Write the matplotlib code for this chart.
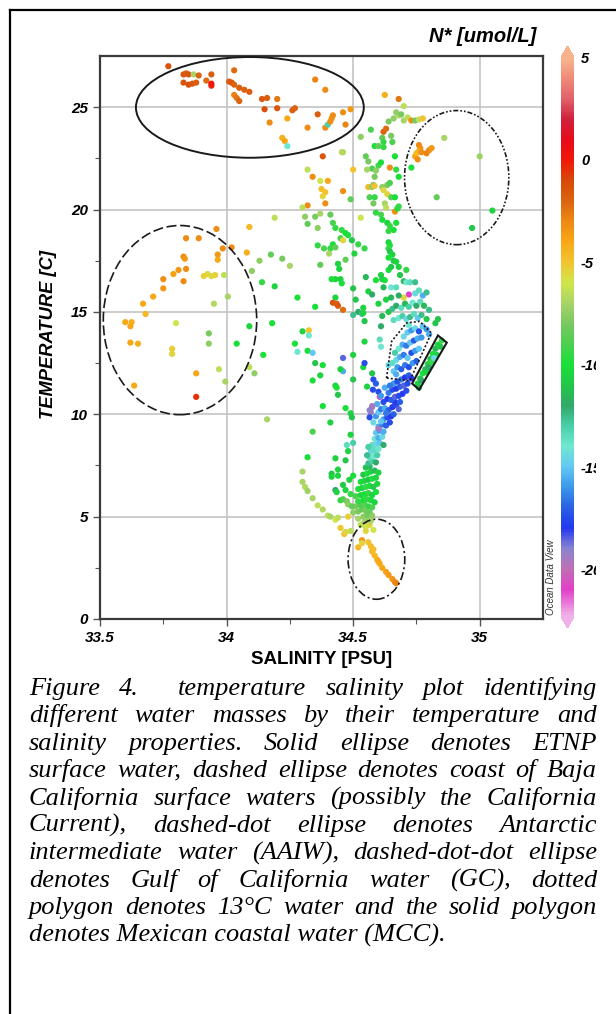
import re

import numpy as np
import matplotlib
matplotlib.use('Agg')
import matplotlib.pyplot as plt
from matplotlib.colors import LinearSegmentedColormap, Normalize
from matplotlib.patches import Ellipse, Polygon
from matplotlib.lines import Line2D
from matplotlib.transforms import Bbox, TransformedBbox
from matplotlib.font_manager import FontProperties

# ---- stations: (salinity PSU, temperature C, N* umol/L) ----
etnp_surface = [
    (33.77, 27.0, -1.5), (33.83, 26.6, -1.5), (33.84, 26.65, -1.8), (33.85, 26.6, -1.5),
    (33.87, 26.6, -7.0), (33.89, 26.55, -2.0), (33.92, 26.3, -2.2), (33.94, 26.6, -1.8),
    (33.94, 26.05, -0.3), (33.94, 26.15, 0.2), (33.83, 26.2, -1.5), (33.85, 26.1, -1.2),
    (33.865, 26.15, -1.6), (33.88, 26.2, -1.8), (34.03, 26.8, -2.2), (34.01, 26.25, -1.8),
    (34.02, 26.2, -1.5), (34.03, 26.1, -2.0), (34.05, 25.95, -1.8), (34.07, 25.85, -2.0),
    (34.09, 25.75, -1.7), (34.03, 25.6, -2.8), (34.04, 25.45, -2.5), (34.05, 25.3, -2.0),
    (34.14, 25.4, -1.6), (34.16, 25.45, -1.8), (34.15, 24.9, -1.2), (34.20, 25.4, -2.5),
    (34.20, 24.95, -1.4), (34.17, 24.25, -3.0), (34.24, 24.45, -4.0), (34.26, 24.85, -1.8),
    (34.27, 24.95, -2.0), (34.22, 23.5, -4.2), (34.23, 23.35, -4.0), (34.24, 23.1, -14.0),
    (34.32, 24.0, -3.2), (34.35, 26.35, -2.8), (34.39, 25.85, -3.0), (34.36, 24.65, -1.8),
    (34.39, 24.0, -3.0), (34.40, 24.15, -13.0), (34.41, 24.3, -3.2), (34.415, 24.45, -3.3),
    (34.42, 24.6, -3.0), (34.46, 24.75, -3.2), (34.47, 24.15, -2.8), (34.49, 24.9, -3.5),
    (34.38, 22.6, -1.5),
]

baja_surface = [
    (33.96, 19.05, -3.2), (34.09, 19.15, -4.5), (33.84, 18.6, -3.0), (33.89, 18.6, -3.2),
    (34.02, 18.15, -3.0), (33.985, 18.1, -3.0), (33.965, 17.8, -3.5), (33.965, 17.55, -4.0),
    (33.83, 17.7, -3.0), (33.835, 17.6, -3.5), (34.08, 17.9, -4.2), (33.84, 17.1, -3.2),
    (33.81, 17.05, -3.5), (33.79, 16.85, -3.8), (33.83, 16.5, -3.0), (33.75, 16.6, -3.2),
    (33.75, 16.15, -3.5), (33.71, 15.75, -4.0), (33.67, 15.4, -4.0), (33.68, 14.9, -4.5),
    (33.91, 16.75, -5.3), (33.925, 16.85, -5.5), (33.94, 16.75, -5.6), (33.955, 16.8, -5.4),
    (33.99, 16.8, -6.5), (34.005, 15.75, -7.0), (33.95, 15.4, -6.8), (33.60, 14.5, -4.0),
    (33.625, 14.5, -4.2), (33.62, 14.3, -4.0), (33.62, 13.5, -4.0), (33.65, 13.45, -4.2),
    (33.635, 11.4, -4.0), (33.80, 14.45, -6.0), (33.785, 13.2, -5.3), (33.785, 12.95, -5.5),
    (33.88, 12.0, -4.0), (33.88, 10.85, -0.5), (33.93, 13.95, -8.0), (33.93, 13.45, -7.5),
    (33.97, 12.2, -6.5), (33.995, 11.6, -7.0), (34.09, 14.3, -10.5), (34.04, 13.45, -10.0),
    (34.09, 12.3, -6.5), (34.11, 12.0, -7.5), (34.145, 12.9, -10.0), (34.18, 14.45, -10.0),
    (34.16, 9.75, -7.0),
]

upper_mixed = [
    (34.625, 25.6, -4.2), (34.68, 25.4, -2.5), (34.70, 25.05, -6.5), (34.455, 22.8, -6.5),
    (34.46, 22.8, -6.8), (34.32, 21.95, -6.5), (34.34, 21.6, -3.2), (34.53, 23.55, -7.5),
    (34.57, 23.9, -9.0), (34.62, 23.8, -2.0), (34.63, 23.95, -2.2), (34.64, 24.3, -8.0),
    (34.66, 24.45, -7.5), (34.68, 24.6, -6.8), (34.67, 24.75, -7.5), (34.69, 24.65, -8.0),
    (34.70, 24.35, -7.0), (34.715, 24.5, -6.5), (34.73, 24.35, -3.0), (34.745, 24.35, -8.0),
    (34.76, 24.4, -6.5), (34.775, 24.45, -5.0), (34.615, 23.5, -8.5), (34.62, 23.3, -9.5),
    (34.65, 23.6, -8.0), (34.655, 23.3, -9.0), (34.585, 23.1, -10.0), (34.60, 23.1, -8.5),
    (34.62, 23.05, -9.5), (34.73, 22.05, -10.0), (34.55, 22.6, -8.5), (34.56, 22.35, -8.0),
    (34.575, 22.0, -9.0), (34.59, 21.9, -7.5), (34.60, 22.15, -9.0), (34.61, 22.3, -10.0),
    (34.645, 22.05, -3.0), (34.665, 22.6, -10.0), (34.67, 21.95, -9.5), (34.68, 21.6, -10.0),
    (34.585, 21.6, -8.0), (34.58, 21.2, -8.0), (34.555, 21.95, -7.0), (34.56, 21.1, -4.5),
    (34.575, 21.1, -7.5), (34.585, 21.15, -5.0), (34.615, 21.1, -7.5), (34.62, 20.95, -5.5),
    (34.635, 21.2, -8.0), (34.645, 21.3, -9.0), (34.565, 20.6, -9.0), (34.585, 20.6, -9.5),
    (34.58, 20.3, -8.0), (34.635, 20.75, -5.5), (34.65, 20.6, -8.5), (34.665, 20.6, -10.0),
    (34.625, 20.3, -7.0), (34.63, 20.1, -6.5), (34.665, 19.9, -3.2), (34.675, 20.05, -10.0),
    (34.68, 20.15, -9.5), (34.59, 19.85, -9.5), (34.61, 19.75, -9.0), (34.615, 19.5, -10.0),
    (34.635, 19.35, -10.5), (34.645, 19.2, -9.5), (34.66, 19.0, -10.0), (34.64, 18.95, -9.5),
    (34.67, 19.35, -10.0), (34.64, 18.4, -10.5), (34.645, 18.25, -10.0), (34.64, 18.1, -9.5),
    (34.645, 17.95, -11.0), (34.655, 17.8, -10.5), (34.64, 17.65, -10.0), (34.66, 17.5, -11.0),
    (34.67, 17.45, -10.5), (34.61, 16.8, -10.5), (34.615, 16.6, -11.0), (34.625, 16.55, -10.0),
    (34.62, 16.2, -11.5), (34.64, 17.05, -10.0), (34.65, 17.2, -11.0), (34.68, 17.2, -10.5),
    (34.685, 16.8, -11.0), (34.71, 17.05, -9.5), (34.70, 16.5, -11.5), (34.65, 16.2, -14.0),
    (34.67, 16.2, -13.5), (34.71, 16.45, -14.0), (34.725, 16.45, -13.5), (34.745, 16.45, -12.5),
    (34.72, 15.85, -21.0), (34.70, 15.7, -5.5),
    (34.32, 20.2, -3.0), (34.39, 20.3, -3.2), (34.38, 20.65, -5.5), (34.39, 20.85, -5.0),
    (34.375, 21.0, -4.8), (34.37, 21.4, -6.0), (34.40, 21.4, -4.0), (34.46, 20.9, -3.2),
    (34.50, 21.95, -5.0), (34.49, 20.5, -8.5), (34.53, 19.6, -6.0), (34.30, 20.1, -6.5),
    (34.31, 19.65, -7.5), (34.32, 19.3, -8.5), (34.35, 19.65, -8.0), (34.36, 19.1, -7.5),
    (34.37, 19.8, -7.0), (34.41, 19.75, -8.5), (34.42, 19.35, -9.0), (34.43, 19.1, -9.5),
    (34.455, 19.0, -9.5), (34.47, 18.85, -10.0), (34.48, 18.75, -10.0), (34.495, 18.5, -11.0),
    (34.45, 18.6, -9.0), (34.46, 18.5, -5.5), (34.42, 18.3, -10.0), (34.41, 18.1, -9.5),
    (34.43, 18.15, -8.5), (34.385, 18.1, -9.0), (34.36, 18.25, -9.5), (34.505, 17.85, -10.5),
    (34.52, 18.3, -9.5), (34.545, 18.1, -9.5), (34.47, 17.55, -8.5), (34.44, 17.35, -10.5),
    (34.445, 17.1, -10.5), (34.43, 16.6, -10.5), (34.415, 16.6, -10.0), (34.45, 16.6, -10.5),
    (34.455, 16.4, -10.0), (34.43, 15.7, -10.5), (34.42, 15.45, -1.5), (34.435, 15.4, -1.8),
    (34.44, 15.3, -1.6), (34.46, 15.1, -2.2), (34.35, 15.25, -10.0), (34.28, 15.7, -10.0),
    (34.14, 16.45, -9.5), (34.19, 16.25, -10.5), (34.19, 19.6, -6.5), (34.13, 17.5, -7.5),
    (34.175, 17.8, -8.5), (34.22, 17.6, -8.0), (34.25, 17.25, -7.0), (34.10, 17.0, -7.5),
    (34.37, 17.3, -8.5), (34.405, 17.85, -7.0), (34.55, 16.7, -11.5), (34.56, 16.0, -10.5),
    (34.575, 15.85, -12.0), (34.59, 16.55, -10.0), (34.50, 16.15, -11.0), (34.51, 15.6, -11.0),
    (34.52, 15.0, -12.0), (34.54, 15.2, -10.5), (34.535, 14.9, -12.5), (34.545, 14.55, -11.0),
    (34.50, 14.85, -12.5),
]

gulf_upper = [
    (34.76, 23.15, -3.0), (34.765, 23.0, -3.3), (34.76, 22.85, -4.0), (34.745, 22.6, -3.8),
    (34.755, 22.45, -3.2), (34.75, 22.75, -4.5), (34.77, 22.8, -3.2), (34.79, 22.75, -2.8),
    (34.80, 22.9, -3.0), (34.81, 23.0, -3.5), (34.86, 23.5, -7.0), (35.00, 22.6, -7.2),
    (34.83, 20.6, -8.5), (35.05, 19.95, -10.5), (34.97, 19.1, -11.0),
]

mid_scatter = [
    (34.27, 13.45, -10.0), (34.28, 13.05, -14.0), (34.30, 14.05, -10.5), (34.325, 14.1, -5.0),
    (34.325, 13.85, -14.0), (34.32, 13.1, -10.0), (34.34, 13.0, -15.0), (34.35, 12.5, -11.0),
    (34.38, 12.4, -10.0), (34.34, 11.65, -10.0), (34.37, 11.9, -10.5), (34.43, 11.4, -10.5),
    (34.435, 11.3, -10.0), (34.44, 10.95, -11.0), (34.38, 10.4, -10.0), (34.41, 9.6, -10.5),
    (34.34, 9.15, -9.0), (34.46, 12.75, -18.5), (34.46, 12.1, -15.5), (34.45, 12.2, -10.5),
    (34.50, 11.7, -11.0), (34.47, 10.3, -10.0), (34.49, 10.05, -10.5), (34.32, 7.9, -10.0),
    (34.43, 7.85, -10.5), (34.49, 9.0, -10.5), (34.475, 8.5, -13.5), (34.50, 8.6, -13.0),
    (34.415, 7.1, -11.0), (34.415, 6.95, -10.5), (34.44, 7.3, -10.5), (34.46, 6.55, -11.0),
    (34.43, 6.3, -12.0), (34.435, 6.2, -10.5), (34.47, 6.3, -10.5), (34.45, 5.8, -9.5),
    (34.46, 5.85, -9.0), (34.475, 5.75, -8.0), (34.48, 5.6, -7.5), (34.54, 12.3, -10.5),
    (34.545, 12.5, -17.5), (34.50, 12.9, -10.5), (34.555, 11.35, -10.5), (34.575, 12.0, -11.0),
    (34.58, 11.7, -17.5), (34.59, 11.5, -17.0), (34.605, 10.85, -20.5), (34.60, 11.1, -17.5),
    (34.575, 10.35, -19.0), (34.57, 10.1, -19.5), (34.565, 9.85, -17.5), (34.495, 9.85, -11.0),
    (34.48, 8.2, -10.5), (34.47, 7.75, -11.0), (34.44, 7.0, -10.5), (34.54, 14.95, -10.5),
    (34.545, 13.55, -10.5), (34.605, 13.65, -13.5), (34.61, 13.3, -14.0), (34.578, 11.2, -17.5),
]

deep_arc = [
    (34.30, 7.2, -7.0), (34.30, 6.7, -7.0), (34.31, 6.45, -6.8), (34.32, 6.25, -7.2),
    (34.34, 5.9, -7.0), (34.36, 5.55, -6.5), (34.38, 5.35, -6.8), (34.40, 5.05, -6.5),
    (34.41, 5.0, -7.0), (34.43, 4.85, -6.0), (34.44, 4.95, -6.5), (34.45, 4.45, -5.2),
    (34.465, 4.15, -4.8), (34.47, 4.25, -5.5), (34.48, 5.0, -5.3), (34.49, 4.3, -6.5),
    (34.52, 3.5, -4.5), (34.535, 3.85, -3.5), (34.535, 3.7, -5.5),
]

main_band = [
    # 4-5.5 C
    (34.53, 4.6, -6.5), (34.545, 4.75, -7.0), (34.55, 4.5, -6.0), (34.56, 4.9, -7.5),
    (34.52, 4.9, -7.0), (34.54, 5.0, -7.5), (34.555, 5.1, -8.0), (34.565, 4.6, -5.5),
    (34.57, 4.8, -7.0), (34.58, 4.35, -6.0), (34.55, 4.3, -5.5), (34.50, 5.2, -7.5),
    (34.52, 5.25, -8.0), (34.535, 5.35, -8.5), (34.55, 5.3, -8.0), (34.565, 5.2, -8.5),
    (34.575, 5.05, -7.5),
    # 5.5-7.5 C
    (34.51, 5.5, -8.0), (34.53, 5.55, -9.0), (34.545, 5.6, -8.5), (34.56, 5.5, -9.5),
    (34.575, 5.45, -9.0), (34.52, 5.75, -9.5), (34.54, 5.8, -10.0), (34.555, 5.85, -9.5),
    (34.57, 5.8, -10.0), (34.585, 5.7, -10.5), (34.51, 6.0, -9.0), (34.53, 6.05, -10.5),
    (34.545, 6.1, -10.0), (34.56, 6.15, -9.5), (34.575, 6.05, -10.5), (34.59, 6.2, -10.0),
    (34.52, 6.35, -10.0), (34.535, 6.4, -10.5), (34.55, 6.45, -9.5), (34.565, 6.5, -10.0),
    (34.58, 6.45, -11.0), (34.595, 6.6, -10.5), (34.53, 6.7, -10.0), (34.545, 6.75, -10.5),
    (34.56, 6.8, -11.0), (34.575, 6.85, -10.0), (34.59, 6.9, -10.5), (34.54, 7.05, -11.0),
    (34.555, 7.1, -10.0), (34.57, 7.2, -10.5), (34.585, 7.25, -11.5), (34.60, 7.15, -10.5),
    (34.55, 7.4, -11.0), (34.565, 7.45, -11.5), (34.49, 6.1, -9.5), (34.485, 6.8, -10.5),
    (34.50, 7.0, -10.0), (34.495, 5.5, -8.5),
    # 7.5-9 C
    (34.56, 7.6, -12.5), (34.575, 7.7, -13.0), (34.59, 7.65, -12.0), (34.565, 7.9, -13.5),
    (34.58, 7.95, -14.0), (34.595, 8.0, -13.0), (34.57, 8.2, -14.5), (34.585, 8.25, -13.5),
    (34.60, 8.3, -14.0), (34.575, 8.5, -13.5), (34.59, 8.55, -14.5), (34.605, 8.6, -15.0),
    (34.585, 8.8, -14.0), (34.60, 8.85, -15.5), (34.615, 8.9, -14.5), (34.56, 8.4, -13.0),
    (34.555, 8.0, -12.5), (34.62, 8.5, -12.0),
    # 9-10.5 C
    (34.59, 9.1, -15.0), (34.605, 9.2, -16.0), (34.62, 9.15, -15.5), (34.60, 9.4, -15.5),
    (34.615, 9.5, -16.5), (34.63, 9.45, -17.0), (34.645, 9.6, -17.5), (34.62, 9.75, -16.0),
    (34.635, 9.85, -17.5), (34.65, 9.9, -18.0), (34.66, 10.0, -17.0), (34.58, 9.6, -14.5),
    (34.59, 9.9, -16.0), (34.60, 10.1, -15.0), (34.61, 10.25, -16.5), (34.625, 10.3, -15.5),
    (34.64, 10.2, -17.0), (34.655, 10.35, -18.0), (34.67, 10.45, -17.5), (34.68, 10.25, -18.5),
    (34.595, 10.5, -15.5), (34.565, 10.2, -19.0), (34.575, 10.4, -19.5), (34.60, 9.3, -19.5),
    (34.61, 9.65, -15.0), (34.63, 10.05, -16.5), (34.665, 10.6, -18.0), (34.685, 10.6, -17.0),
    # 10.5-12 C
    (34.62, 10.6, -17.5), (34.635, 10.75, -18.0), (34.65, 10.7, -17.0), (34.665, 10.85, -18.5),
    (34.68, 10.9, -17.5), (34.695, 11.0, -18.0), (34.64, 11.05, -16.5), (34.655, 11.2, -17.5),
    (34.67, 11.25, -18.0), (34.685, 11.35, -17.0), (34.70, 11.4, -18.5), (34.715, 11.5, -17.5),
    (34.66, 11.5, -16.0), (34.675, 11.6, -17.5), (34.69, 11.7, -16.5), (34.705, 11.8, -18.0),
    (34.72, 11.9, -17.0), (34.73, 11.75, -18.0), (34.61, 10.9, -16.0), (34.625, 11.3, -15.5),
    (34.645, 11.4, -16.5), (34.71, 11.15, -17.5),
    # 12-14.5 C
    (34.66, 12.1, -15.0), (34.675, 12.3, -16.0), (34.69, 12.2, -17.0), (34.705, 12.4, -16.5),
    (34.72, 12.3, -17.5), (34.735, 12.5, -16.0), (34.75, 12.6, -17.0), (34.67, 12.65, -14.5),
    (34.685, 12.8, -15.5), (34.70, 12.9, -16.5), (34.715, 12.75, -15.0), (34.73, 13.0, -17.5),
    (34.745, 13.1, -16.0), (34.76, 13.2, -15.0), (34.68, 13.2, -14.0), (34.695, 13.4, -15.5),
    (34.71, 13.35, -16.5), (34.725, 13.5, -15.0), (34.74, 13.6, -17.0), (34.755, 13.7, -15.5),
    (34.77, 13.75, -16.0), (34.70, 13.8, -14.5), (34.715, 14.0, -15.0), (34.73, 14.1, -16.0),
    (34.745, 14.2, -14.5), (34.76, 14.05, -17.5), (34.775, 14.3, -15.0), (34.79, 14.15, -16.0),
    (34.72, 14.35, -14.0), (34.80, 13.9, -15.5), (34.655, 12.5, -13.5), (34.665, 13.0, -13.0),
    (34.67, 11.95, -15.5), (34.64, 12.4, -14.5),
    # 14.5-16.5 C
    (34.66, 14.6, -13.5), (34.68, 14.7, -14.0), (34.695, 14.8, -13.0), (34.71, 14.65, -14.5),
    (34.725, 14.75, -12.5), (34.74, 14.9, -13.5), (34.755, 14.7, -15.0), (34.77, 14.85, -12.5),
    (34.79, 14.65, -11.0), (34.64, 15.0, -11.0), (34.655, 15.15, -12.5), (34.67, 15.3, -12.0),
    (34.69, 15.2, -13.5), (34.705, 15.4, -11.5), (34.72, 15.25, -13.0), (34.735, 15.45, -14.0),
    (34.75, 15.3, -12.0), (34.765, 15.5, -13.5), (34.78, 15.3, -11.5), (34.80, 15.1, -12.5),
    (34.63, 15.6, -10.5), (34.65, 15.7, -11.5), (34.68, 15.8, -12.0), (34.745, 15.9, -14.5),
    (34.76, 16.05, -13.5), (34.775, 15.8, -15.5), (34.79, 15.95, -12.5), (34.60, 15.4, -10.5),
    (34.615, 14.8, -11.5), (34.61, 14.3, -12.0), (34.835, 14.65, -11.0), (34.825, 14.45, -11.0),
]

mexican_coastal = [
    (34.755, 11.5, -10.5), (34.765, 11.75, -11.0), (34.775, 12.0, -10.0), (34.785, 12.2, -11.5),
    (34.795, 12.45, -10.5), (34.805, 12.7, -11.0), (34.815, 12.95, -10.0), (34.825, 13.2, -11.5),
    (34.835, 13.4, -10.5), (34.85, 13.6, -9.5), (34.77, 11.65, -12.0), (34.79, 12.05, -10.5),
    (34.80, 12.3, -12.0), (34.81, 12.55, -9.5), (34.83, 12.9, -10.5), (34.845, 13.3, -11.0),
    (34.76, 11.3, -11.5), (34.82, 12.75, -14.5),
]

aaiw_deep = [
    (34.56, 3.75, -5.0), (34.57, 3.55, -4.8), (34.575, 3.3, -4.5), (34.585, 3.1, -4.5),
    (34.595, 2.9, -4.3), (34.605, 2.7, -4.2), (34.615, 2.5, -4.0), (34.63, 2.3, -3.8),
    (34.64, 2.15, -3.6), (34.655, 1.95, -3.4), (34.665, 1.8, -3.0), (34.67, 1.75, -2.8),
    (34.58, 3.4, -4.8), (34.60, 2.8, -4.0),
]

# colour scale of the N* bar (value, colour), top to bottom
nstar_stops = [
    (5.0, '#f7b48c'), (4.0, '#ef8a78'), (3.0, '#e0606a'), (2.0, '#d0203c'),
    (1.0, '#e80a1a'), (0.0, '#f01808'), (-1.0, '#d84a08'), (-2.0, '#dc6410'),
    (-3.0, '#ee8a14'), (-4.0, '#f8a816'), (-5.0, '#f2c430'), (-6.0, '#cfe64a'),
    (-7.0, '#a8d468'), (-8.0, '#78c860'), (-9.0, '#4cd050'), (-10.0, '#18e038'),
    (-11.0, '#22c848'), (-12.0, '#30a868'), (-13.0, '#48d0a8'), (-14.0, '#70e8d0'),
    (-15.0, '#64c8f4'), (-16.0, '#3c98ea'), (-17.0, '#2860e4'), (-18.0, '#2438f0'),
    (-19.0, '#8884d0'), (-20.0, '#c070b4'), (-21.0, '#e040c8'), (-22.3, '#f0b0e8'),
]
nstar_ticks = [5, 0, -5, -10, -15, -20]

caption_lines = [
    "Figure 4.  temperature salinity plot identifying",
    "different water masses by their temperature and",
    "salinity properties. Solid ellipse denotes ETNP",
    "surface water, dashed ellipse denotes coast of Baja",
    "California surface waters (possibly the California",
    "Current), dashed-dot ellipse denotes Antarctic",
    "intermediate water (AAIW), dashed-dot-dot ellipse",
    "denotes Gulf of California water (GC), dotted",
    "polygon denotes 13\u00b0C water and the solid polygon",
    "denotes Mexican coastal water (MCC).",
]

W, H = 616, 1014
fig = plt.figure(figsize=(W / 100, H / 100), dpi=100)
fig.patch.set_facecolor('white')


def fx(px):
    return px / W


def fy(py):
    return 1 - py / H


# page frame (left and top edges of the scanned box)
fig.add_artist(Line2D([fx(10), fx(10)], [fy(10), 0], color='black', lw=1.6))
fig.add_artist(Line2D([fx(10), 1], [fy(10), fy(10)], color='black', lw=1.6))

vmin, vmax = nstar_stops[-1][0], nstar_stops[0][0]
cmap = LinearSegmentedColormap.from_list(
    'odv', [((v - vmin) / (vmax - vmin), c) for v, c in sorted(nstar_stops)])
cmap.set_over(nstar_stops[0][1])
cmap.set_under(nstar_stops[-1][1])
norm = Normalize(vmin=vmin, vmax=vmax)

ax = fig.add_axes([fx(100), fy(619), fx(543) - fx(100), fy(56) - fy(619)])
groups = [etnp_surface, baja_surface, upper_mixed, gulf_upper, mid_scatter,
          deep_arc, main_band, mexican_coastal, aaiw_deep]
pts = np.array([p for g in groups for p in g])
sc = ax.scatter(pts[:, 0], pts[:, 1], c=pts[:, 2], cmap=cmap, norm=norm,
                s=20, linewidths=0, zorder=3)

ax.set_xlim(33.5, 35.25)
ax.set_ylim(0, 27.5)
ax.set_xticks([33.5, 34, 34.5, 35])
ax.set_xticklabels(['33.5', '34', '34.5', '35'])
ax.set_yticks([0, 5, 10, 15, 20, 25])
ax.set_xticks(np.arange(33.75, 35.25, 0.5), minor=True)
ax.set_yticks(np.arange(2.5, 27.5, 5), minor=True)
ax.grid(True, which='major', color='#c4c4c4', lw=1.2, zorder=0)
ax.tick_params(which='both', direction='out', color='#555555')
ax.tick_params(which='major', length=5, width=1)
ax.tick_params(which='minor', length=3.5, width=0.8)
for sp in ax.spines.values():
    sp.set_color('#3a3a3a')
    sp.set_linewidth(1.6)

tick_fp = FontProperties(family='Liberation Sans', weight='bold', style='italic', size=11)
for lab in ax.get_xticklabels() + ax.get_yticklabels():
    lab.set_fontproperties(tick_fp)

label_font = dict(family='Liberation Sans', weight='bold', style='italic', size=13.5)
ax.set_xlabel('SALINITY [PSU]', fontdict=dict(label_font, style='normal'))
ax.xaxis.set_label_coords(0.5, -0.056)
ax.set_ylabel('TEMPERATURE [C]', fontdict=dict(label_font, size=13.2))
ax.yaxis.set_label_coords(-0.098, 0.505)

# water-mass outlines
ax.add_patch(Ellipse((34.092, 24.99), 0.90, 4.92, fill=False, ec='#1a1a1a', lw=1.4, zorder=4))
ax.add_patch(Ellipse((33.816, 14.6), 0.606, 9.24, fill=False, ec='#1a1a1a', lw=1.2,
                     ls=(0, (6, 2.2)), zorder=4))
ax.add_patch(Ellipse((34.909, 21.56), 0.412, 6.55, fill=False, ec='#1a1a1a', lw=1.2,
                     ls=(0, (3, 1.2, 1, 1.2, 1, 1.2)), zorder=4))
ax.add_patch(Ellipse((34.592, 2.92), 0.224, 3.91, fill=False, ec='#1a1a1a', lw=1.2,
                     ls=(0, (5, 1.8, 1.2, 1.8)), zorder=4))
ax.add_patch(Polygon([(34.632, 11.77), (34.652, 13.56), (34.711, 14.46), (34.763, 14.54),
                      (34.809, 13.97), (34.724, 11.64)], closed=True, fill=False,
                     ec='#1a1a1a', lw=1.2, ls=(0, (1.2, 1.2)), zorder=4))
ax.add_patch(Polygon([(34.835, 13.85), (34.87, 13.5), (34.761, 11.2), (34.733, 11.5)],
                     closed=True, fill=False, ec='#1a1a1a', lw=1.5, zorder=4))

# colour bar with arrow ends; the scanned chart is cut off at its right edge
cax = fig.add_axes([fx(561), fy(628), fx(574) - fx(561), fy(46) - fy(628)])
cb = fig.colorbar(sc, cax=cax, extend='both', extendfrac=0.02)
cb.outline.set_visible(False)
cb.set_ticks(nstar_ticks)
cb.set_ticklabels([str(t) for t in nstar_ticks])
cb.ax.tick_params(length=0, pad=5)
crop = TransformedBbox(Bbox([[0, 0], [fx(596), 1]]), fig.transFigure)
for lab in cb.ax.get_yticklabels():
    lab.set_fontproperties(FontProperties(family='Liberation Sans', weight='bold',
                                          style='italic', size=10.5))
    lab.set_clip_on(True)
    lab.set_clip_box(crop)

fig.text(fx(536), fy(37), 'N* [umol/L]', ha='right', va='center', **dict(label_font, size=14.5))
fig.text(fx(551), fy(577), 'Ocean Data View', rotation=90, ha='center', va='center',
         family='Liberation Sans', style='italic', size=7, color='#333333')

# justified caption
cap_font = dict(family='Liberation Serif', style='italic', size=19, color='black')
left, right = 29, 597
base0, step = 695, 27.4
renderer = fig.canvas.get_renderer()
for i, line in enumerate(caption_lines):
    y = fy(base0 + i * step)
    if i == len(caption_lines) - 1:
        fig.text(fx(left), y, line, ha='left', va='baseline', **cap_font)
        continue
    tokens = re.split(r'( +)', line)
    words = tokens[0::2]
    gaps = [len(g) for g in tokens[1::2]]
    arts = [fig.text(0, y, w, ha='left', va='baseline', **cap_font) for w in words]
    widths = [a.get_window_extent(renderer=renderer).width for a in arts]
    unit = (right - left - sum(widths)) / sum(gaps)
    x = left
    for k, a in enumerate(arts):
        a.set_x(fx(x))
        x += widths[k]
        if k < len(gaps):
            x += unit * gaps[k]

fig.savefig('out.png', dpi=100, facecolor='white')
